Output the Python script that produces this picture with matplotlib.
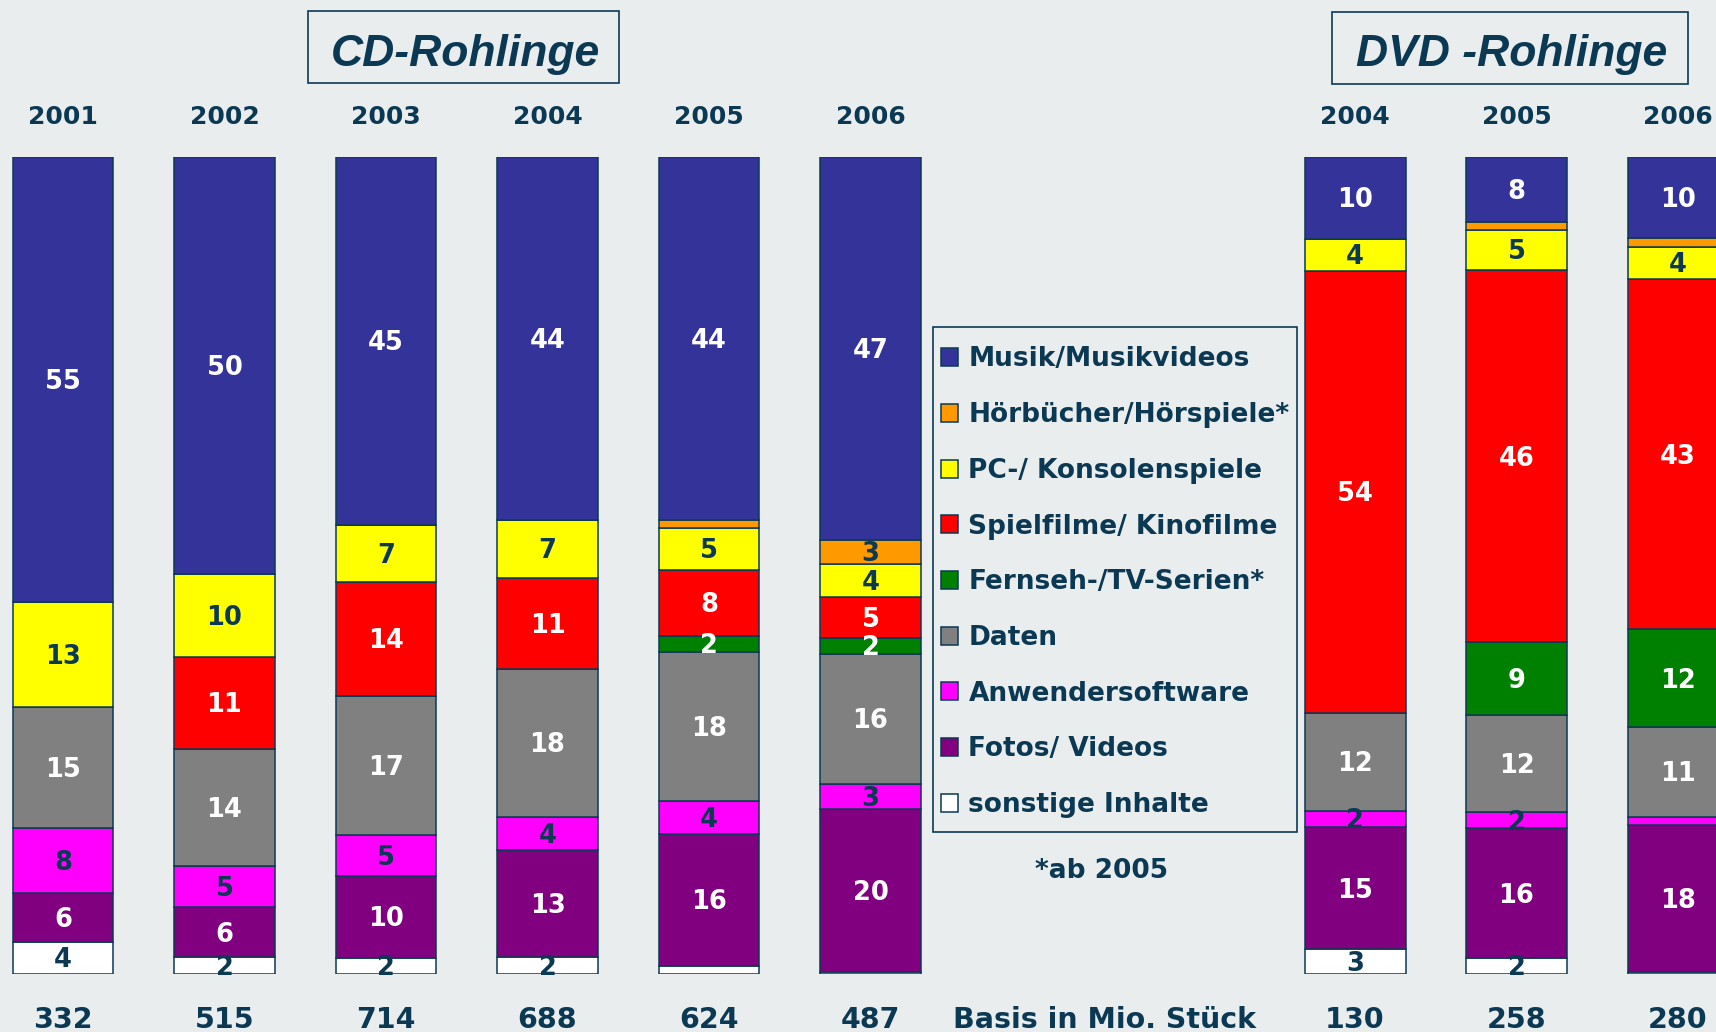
import matplotlib
matplotlib.use('Agg')
from matplotlib import pyplot as plt
from matplotlib.patches import Rectangle
from matplotlib.transforms import blended_transform_factory

# data (percent shares per year)
years = ['2001', '2002', '2003', '2004', '2005', '2006', '2004', '2005', '2006']
basis = [332, 515, 714, 688, 624, 487, 130, 258, 280]

categories = ['Musik/Musikvideos', 'Hörbücher/Hörspiele*', 'PC-/ Konsolenspiele',
              'Spielfilme/ Kinofilme', 'Fernseh-/TV-Serien*', 'Daten',
              'Anwendersoftware', 'Fotos/ Videos', 'sonstige Inhalte']
musik = [55, 50, 45, 44, 44, 47, 10, 8, 10]
hoerbuecher = [0, 0, 0, 0, 1, 3, 0, 1, 1]
pc_spiele = [13, 10, 7, 7, 5, 4, 4, 5, 4]
spielfilme = [0, 11, 14, 11, 8, 5, 54, 46, 43]
tv_serien = [0, 0, 0, 0, 2, 2, 0, 9, 12]
daten = [15, 14, 17, 18, 18, 16, 12, 12, 11]
anwender = [8, 5, 5, 4, 4, 3, 2, 2, 1]
fotos = [6, 6, 10, 13, 16, 20, 15, 16, 18]
sonstige = [4, 2, 2, 2, 1, 0.3, 3, 2, 0.3]

series = [musik, hoerbuecher, pc_spiele, spielfilme, tv_serien,
          daten, anwender, fotos, sonstige]
colors = ['#333399', '#ff9900', '#ffff00', '#ff0000', '#008000',
          '#808080', '#ff00ff', '#800080', '#ffffff']
dark_text = ['#ff9900', '#ffff00', '#ff00ff', '#ffffff']

bg = '#e9edee'
navy = '#0b3954'
font = 'DejaVu Sans'
W, H = 1716, 1032

positions = [0, 1, 2, 3, 4, 5, 8, 9, 10]
totals = [sum(s[i] for s in series) for i in range(len(years))]

fig = plt.figure(figsize=(17.16, 10.32), dpi=100, facecolor=bg)
ax = fig.add_axes([0, 0.0562, 1, 0.7917])
ax.set_facecolor(bg)
ax.set_xlim(-0.39, 10.235)
ax.set_ylim(0, 100)
ax.axis('off')

bottom = [0.0] * len(years)
for name, vals, col in reversed(list(zip(categories, series, colors))):
    heights = [v / t * 100 for v, t in zip(vals, totals)]
    ax.bar(positions, heights, width=0.625, bottom=bottom, color=col,
           edgecolor=navy, linewidth=1.1, label=name)
    tc = navy if col in dark_text else 'white'
    for x, v, h, b in zip(positions, vals, heights, bottom):
        if v >= 2:
            ax.text(x, b + h / 2 - 0.3, f'{v:g}', ha='center', va='center',
                    color=tc, fontsize=18.5, fontweight='bold', family=font)
    bottom = [b + h for b, h in zip(bottom, heights)]

tr = blended_transform_factory(ax.transData, fig.transFigure)
for x, y, n in zip(positions, years, basis):
    ax.text(x, (H - 124) / H, y, transform=tr, ha='center', va='baseline',
            color=navy, fontsize=18, fontweight='bold', family=font)
    ax.text(x, 0.0034, str(n), transform=tr, ha='center', va='baseline',
            color=navy, fontsize=20.5, fontweight='bold', family=font)
fig.text(1105 / W, 0.0034, 'Basis in Mio. Stück', ha='center', va='baseline',
         color=navy, fontsize=20.5, fontweight='bold', family=font)

# titles with boxes
fig.patches.append(Rectangle((0.1793, 0.9193), 0.1814, 0.0701, transform=fig.transFigure,
                             fill=False, edgecolor=navy, linewidth=1.2))
fig.patches.append(Rectangle((0.7760, 0.9186), 0.2075, 0.0701, transform=fig.transFigure,
                             fill=False, edgecolor=navy, linewidth=1.2))
fig.text(465.7 / W, (H - 66) / H, 'CD-Rohlinge', ha='center', va='baseline',
         color=navy, fontsize=32, fontweight='bold', style='italic', family='Liberation Sans')
fig.text(1512 / W, (H - 66) / H, 'DVD -Rohlinge', ha='center', va='baseline',
         color=navy, fontsize=32, fontweight='bold', style='italic', family='Liberation Sans')

# legend: own frame, entries placed without frame
fig.patches.append(Rectangle((932.5 / W, (H - 832) / H), (1297 - 932.5) / W, (832 - 327) / H,
                             transform=fig.transFigure, fill=False, edgecolor=navy,
                             linewidth=1.2))
handles, labels = ax.get_legend_handles_labels()
leg = ax.legend(handles[::-1], labels[::-1], loc='upper left',
                bbox_to_anchor=(941 / W, (H - 346.5) / H),
                bbox_transform=fig.transFigure, borderaxespad=0, borderpad=0,
                prop={'family': font, 'weight': 'bold', 'size': 19},
                labelcolor=navy, frameon=False, labelspacing=1.125,
                handlelength=0.66, handleheight=0.66, handletextpad=0.38)
fig.text(1102 / W, (H - 878) / H, '*ab 2005', ha='center', va='baseline',
         color=navy, fontsize=19, fontweight='bold', family=font)

fig.savefig('out.png', dpi=100, facecolor=bg)
